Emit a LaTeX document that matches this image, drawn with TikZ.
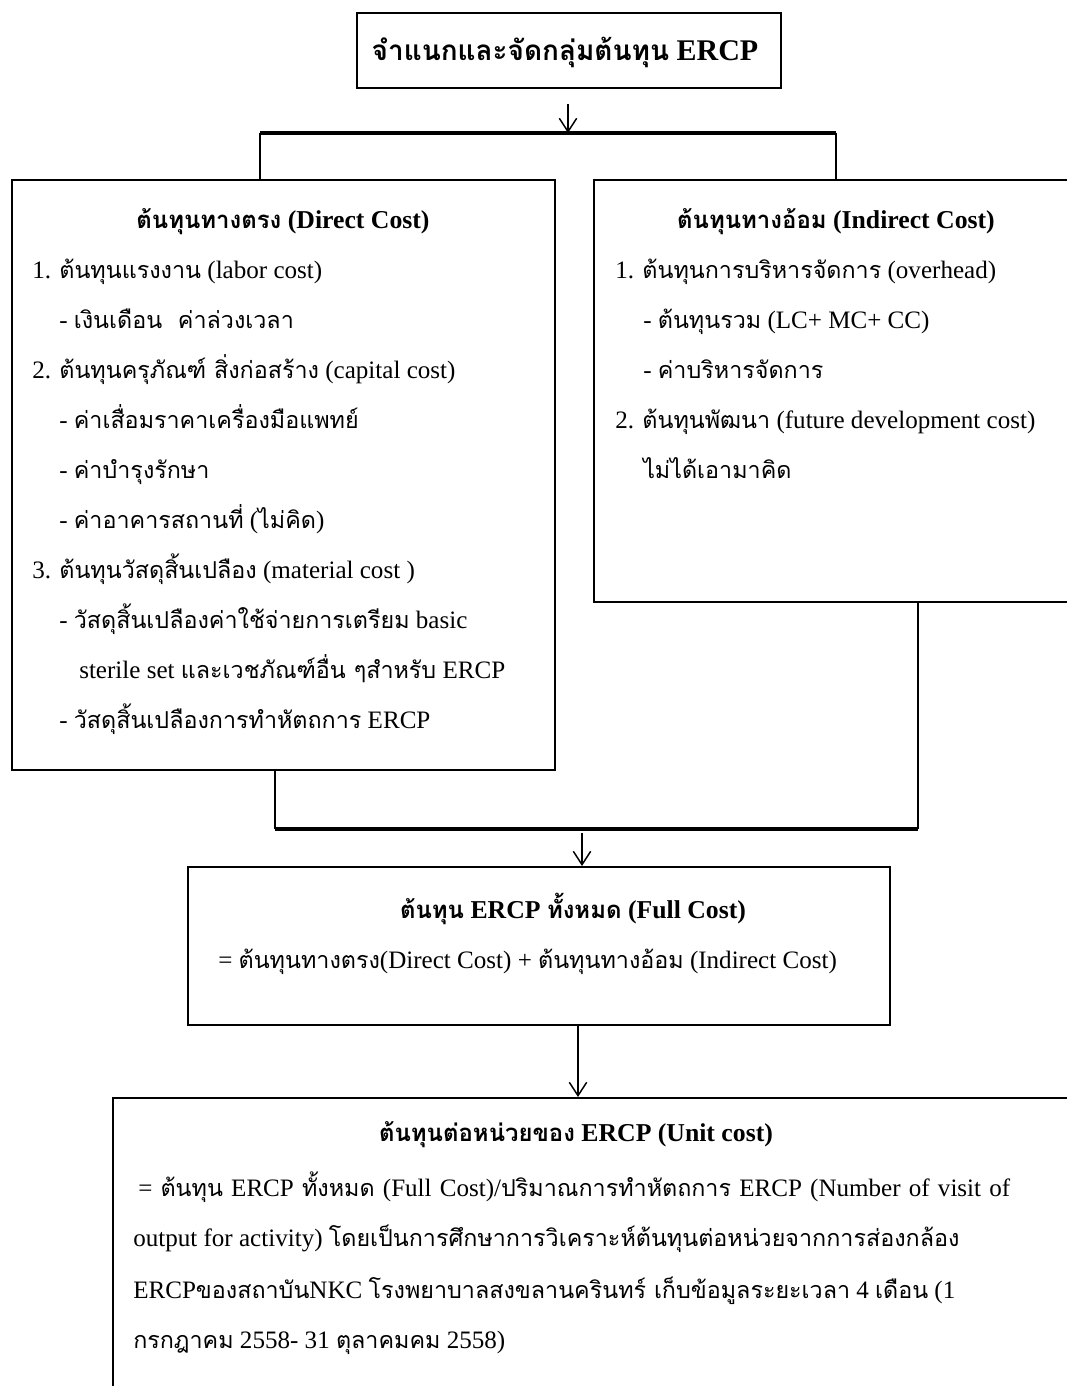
\documentclass[tikz,border=0pt]{standalone}
\usepackage{fontspec}
\setmainfont{Liberation Serif}
\newfontfamily\thaifont[Script=Thai,Scale=0.93]{Loma}
\newcommand\T[1]{{\thaifont #1}}
\usetikzlibrary{arrows.meta,fit}
\begin{document}
\begin{tikzpicture}[x=0.75pt,y=-0.75pt,
  box/.style={draw=black,line width=1.5pt,inner sep=0pt},
  txt/.style={anchor=base west,inner sep=0pt,font=\fontsize{18.8}{20}\selectfont},
  ttl/.style={anchor=base,inner sep=0pt,font=\fontsize{19.3}{21}\selectfont\bfseries},
  conn/.style={line width=1.5pt},
  bar/.style={line width=3pt},
  arr/.style={line width=1.1pt,-{Straight Barb[length=10pt,width=13pt]}}]
\useasboundingbox (0,0) rectangle (1067,1386);
% boxes
\node[box,fit={(357,13) (781,88)}] (top) {};
\node[box,fit={(12,180) (555,770)}] (direct) {};
\node[box,fit={(594,180) (1078,602)}] (indirect) {};
\node[box,fit={(188,867) (890,1025)}] (full) {};
\node[box,fit={(113,1098) (1100,1420)}] (unit) {};
% titles
\node[ttl,font=\fontsize{22.5}{25}\selectfont\bfseries] (t0) at (565,60) {\T{จำแนกและจัดกลุ่มต้นทุน} ERCP};
% direct cost
\node[ttl] (d0) at (283,228) {\T{ต้นทุนทางตรง} (Direct Cost)};
\node[txt] (d1) at (32,278) {1. \T{ต้นทุนแรงงาน} (labor cost)};
\node[txt] (d2) at (59,328) {- \T{เงินเดือน\ \ ค่าล่วงเวลา}};
\node[txt] (d3) at (32,378) {2. \T{ต้นทุนครุภัณฑ์ สิ่งก่อสร้าง} (capital cost)};
\node[txt] (d4) at (59,428) {- \T{ค่าเสื่อมราคาเครื่องมือแพทย์}};
\node[txt] (d5) at (59,478) {- \T{ค่าบำรุงรักษา}};
\node[txt] (d6) at (59,528) {- \T{ค่าอาคารสถานที่} (\T{ไม่คิด})};
\node[txt] (d7) at (32,578) {3. \T{ต้นทุนวัสดุสิ้นเปลือง} (material cost )};
\node[txt] (d8) at (59,628) {- \T{วัสดุสิ้นเปลืองค่าใช้จ่ายการเตรียม} basic};
\node[txt] (d9) at (79,678) {sterile set \T{และเวชภัณฑ์อื่น ๆสำหรับ} ERCP};
\node[txt] (d10) at (59,728) {- \T{วัสดุสิ้นเปลืองการทำหัตถการ} ERCP};
% indirect cost
\node[ttl] (i0) at (836,228) {\T{ต้นทุนทางอ้อม} (Indirect Cost)};
\node[txt] (i1) at (615,278) {1. \T{ต้นทุนการบริหารจัดการ} (overhead)};
\node[txt] (i2) at (643,328) {- \T{ต้นทุนรวม} (LC+ MC+ CC)};
\node[txt] (i3) at (643,378) {- \T{ค่าบริหารจัดการ}};
\node[txt] (i4) at (615,428) {2. \T{ต้นทุนพัฒนา} (future development cost)};
\node[txt] (i5) at (643,478) {\T{ไม่ได้เอามาคิด}};
% full cost
\node[ttl] (f0) at (573,918) {\T{ต้นทุน} ERCP \T{ทั้งหมด} (Full Cost)};
\node[txt] (f1) at (218,968) {= \T{ต้นทุนทางตรง}(Direct Cost) + \T{ต้นทุนทางอ้อม} (Indirect Cost)};
% unit cost
\node[ttl] (u0) at (576,1141) {\T{ต้นทุนต่อหน่วยของ} ERCP (Unit cost)};
\node[txt] (u1) at (138,1196) {\makebox[654pt][s]{= \T{ต้นทุน} ERCP \T{ทั้งหมด} (Full Cost)/\T{ปริมาณการทำหัตถการ} ERCP (Number of visit of}};
\node[txt] (u2) at (133,1246) {output for activity) \T{โดยเป็นการศึกษาการวิเคราะห์ต้นทุนต่อหน่วยจากการส่องกล้อง}};
\node[txt] (u3) at (133,1298) {ERCP\T{ของสถาบัน}NKC \T{โรงพยาบาลสงขลานครินทร์ เก็บข้อมูลระยะเวลา} 4 \T{เดือน} (1};
\node[txt] (u4) at (133,1348) {\T{กรกฎาคม} 2558- 31 \T{ตุลาคมคม} 2558)};
% connectors
\coordinate (a0) at (568,104);
\coordinate (j1) at (260,133);
\coordinate (j2) at (836,133);
\coordinate (j3) at (275,829);
\coordinate (j4) at (918,829);
\coordinate (a1) at (582,833);
\coordinate (a2) at (578,1025);
\draw[arr] (a0) -- (a0 |- j1);
\draw[bar] (j1) -- (j2);
\draw[conn] (j1) -- (j1 |- direct.north);
\draw[conn] (j2) -- (j2 |- indirect.north);
\draw[conn] (j3 |- direct.south) -- (j3);
\draw[conn] (j4 |- indirect.south) -- (j4);
\draw[bar] (j3) -- (j4);
\draw[arr] (a1) -- (a1 |- full.north);
\draw[arr] (a2 |- full.south) -- (a2 |- unit.north);
\end{tikzpicture}
\end{document}
